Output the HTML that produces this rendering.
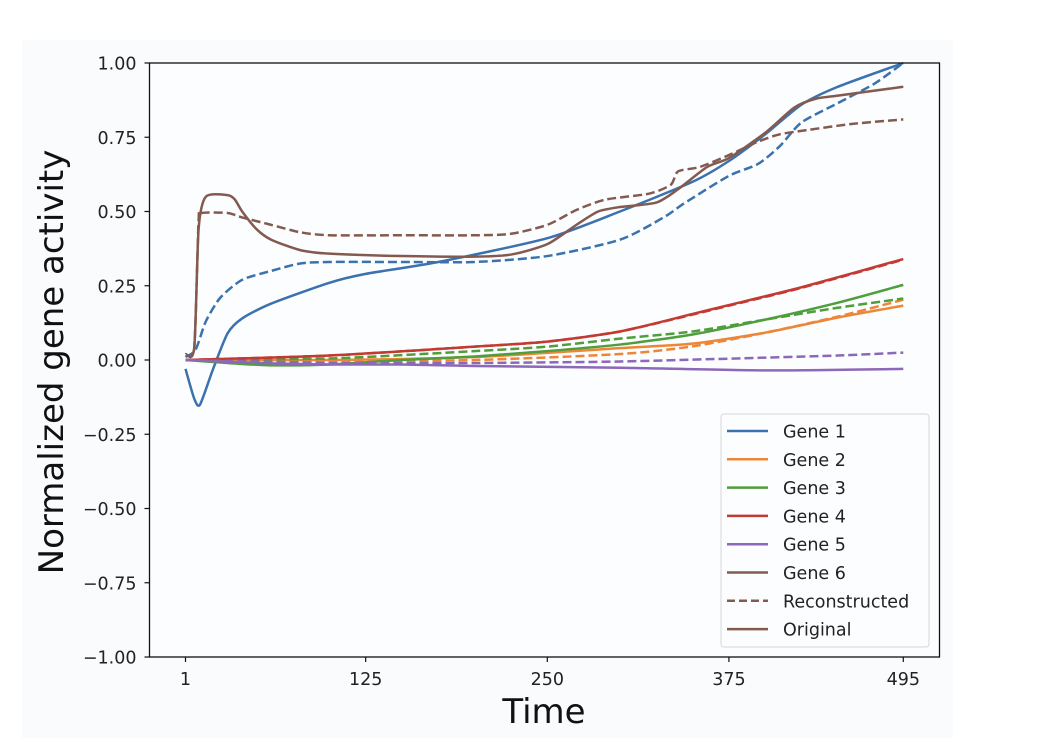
<!DOCTYPE html>
<html><head><meta charset="utf-8"><style>
html,body{margin:0;padding:0;background:#fff;}
svg{display:block;font-family:"DejaVu Sans","Liberation Sans",sans-serif;}
</style></head><body>
<svg id="chart" width="1052" height="738" viewBox="0 0 1052 738">
<rect x="22" y="40" width="931" height="698" fill="#f9fbfd"/>
<rect x="149.5" y="63" width="790" height="594" fill="#fcfdfe"/>
<g id="lines"></g>
<g id="axes"></g>
<text x="544" y="723" font-size="34" text-anchor="middle" fill="#111">Time</text>
<text transform="translate(63,362) rotate(-90)" font-size="34" text-anchor="middle" fill="#111">Normalized gene activity</text>
<g id="legend"></g>
</svg>
<script>
const categories = ["Gene 1","Gene 2","Gene 3","Gene 4","Gene 5","Gene 6"];
const colors = ["#3b72ae","#ee8637","#4f9e3c","#c23a31","#8c68b8","#845a4f"];
const xTicks = [1,125,250,375,495];
const yTicks = [1,0.75,0.5,0.25,0,-0.25,-0.5,-0.75,-1];
const yTickLabels = ["1.00","0.75","0.50","0.25","0.00","\u22120.25","\u22120.50","\u22120.75","\u22121.00"];
const g1Orig = [[1,-0.03],[7,-0.13],[11,-0.15],[20,-0.03],[30,0.09],[40,0.14],[60,0.19],[100,0.26],[125,0.29],[175,0.33],[250,0.41],[300,0.5],[350,0.6],[375,0.67],[400,0.76],[425,0.86],[450,0.92],[495,1.0]];
const g1Rec = [[1,0.01],[8,0.035],[15,0.13],[25,0.21],[40,0.27],[60,0.3],[80,0.325],[100,0.33],[150,0.33],[200,0.33],[250,0.35],[300,0.405],[330,0.48],[345,0.53],[375,0.62],[395,0.66],[410,0.72],[425,0.8],[450,0.865],[475,0.93],[495,1.0]];
const g2Orig = [[1,0],[100,0],[200,0.01],[300,0.04],[350,0.055],[400,0.092],[450,0.143],[495,0.183]];
const g2Rec = [[1,0],[100,-0.005],[200,0],[300,0.02],[350,0.046],[400,0.092],[450,0.146],[495,0.203]];
const g3Orig = [[1,0],[30,-0.01],[60,-0.018],[100,-0.015],[150,0],[200,0.012],[250,0.03],[300,0.052],[350,0.086],[400,0.136],[450,0.193],[495,0.253]];
const g3Rec = [[1,0],[100,0.005],[200,0.03],[250,0.045],[300,0.072],[350,0.096],[400,0.136],[450,0.176],[495,0.207]];
const g4Orig = [[1,0],[100,0.015],[200,0.045],[250,0.062],[300,0.096],[350,0.155],[375,0.185],[425,0.245],[495,0.34]];
const g4Rec = [[1,0],[100,0.015],[200,0.045],[250,0.062],[300,0.096],[350,0.153],[375,0.183],[425,0.243],[495,0.338]];
const g5Orig = [[1,0],[50,-0.01],[100,-0.015],[150,-0.015],[200,-0.02],[300,-0.026],[400,-0.035],[495,-0.03]];
const g5Rec = [[1,0],[100,-0.01],[200,-0.01],[300,-0.005],[400,0.008],[450,0.015],[495,0.025]];
const g6Orig = [[1,0.02],[7,0.04],[10,0.44],[15,0.55],[30,0.555],[35,0.54],[40,0.5],[50,0.44],[60,0.405],[80,0.37],[100,0.358],[150,0.35],[200,0.348],[225,0.355],[250,0.39],[270,0.455],[285,0.5],[300,0.515],[325,0.53],[340,0.575],[360,0.65],[375,0.68],[400,0.765],[420,0.85],[435,0.88],[450,0.89],[495,0.92]];
const g6Rec = [[1,0.02],[7,0.04],[10,0.47],[12,0.495],[30,0.495],[40,0.48],[60,0.455],[80,0.43],[100,0.42],[150,0.42],[200,0.42],[225,0.425],[250,0.455],[270,0.505],[290,0.54],[320,0.56],[335,0.59],[340,0.635],[355,0.65],[375,0.69],[395,0.735],[410,0.76],[430,0.775],[460,0.795],[495,0.81]];
const originals = [g1Orig,g2Orig,g3Orig,g4Orig,g5Orig,g6Orig];
const recons = [g1Rec,g2Rec,g3Rec,g4Rec,g5Rec,g6Rec];

const X0=149.5,X1=939.5,Y0=63,Y1=657;
const xs = t => 185.5 + (t-1)*1.453;
const ys = v => 360 - v*297;
const NS="http://www.w3.org/2000/svg";
function mk(tag,attrs,parent){const e=document.createElementNS(NS,tag);for(const k in attrs)e.setAttribute(k,attrs[k]);parent.appendChild(e);return e;}
function pathD(pts){
  const p=pts.map(d=>[xs(d[0]),ys(d[1])]);
  let d="M"+p[0][0].toFixed(2)+","+p[0][1].toFixed(2);
  for(let i=0;i<p.length-1;i++){
    const p0=p[Math.max(0,i-1)],p1=p[i],p2=p[i+1],p3=p[Math.min(p.length-1,i+2)];
    const t=0.12;
    const c1=[p1[0]+(p2[0]-p0[0])*t,p1[1]+(p2[1]-p0[1])*t];
    const c2=[p2[0]-(p3[0]-p1[0])*t,p2[1]-(p3[1]-p1[1])*t];
    d+=" C"+c1.map(v=>v.toFixed(2)).join(",")+" "+c2.map(v=>v.toFixed(2)).join(",")+" "+p2.map(v=>v.toFixed(2)).join(",");
  }
  return d;
}
const lines=document.getElementById('lines');
for(let i=0;i<6;i++){
  const a=mk('path',{d:pathD(recons[i]),fill:'none',stroke:colors[i],'stroke-width':2.5,'stroke-dasharray':'9,4'},lines);
  
  
  const b=mk('path',{d:pathD(originals[i]),fill:'none',stroke:colors[i],'stroke-width':2.5},lines);
  
  
}
const axes=document.getElementById('axes');
const frame=mk('rect',{x:X0,y:Y0,width:X1-X0,height:Y1-Y0,fill:'none',stroke:'#111','stroke-width':1.3},axes);


xTicks.forEach(t=>{
  const x=xs(t);
  mk('line',{x1:x,x2:x,y1:Y1,y2:Y1+5,stroke:'#111','stroke-width':1.2},axes);
  const tx=mk('text',{x:x,y:Y1+28,'font-size':17.5,'text-anchor':'middle',fill:'#222'},axes);
  tx.textContent=t;
  
  
});
yTicks.forEach((v,i)=>{
  const y=ys(v);
  mk('line',{x1:X0-5,x2:X0,y1:y,y2:y,stroke:'#111','stroke-width':1.2},axes);
  const tx=mk('text',{x:X0-13,y:y+6.5,'font-size':17.5,'text-anchor':'end',fill:'#222'},axes);
  tx.textContent=yTickLabels[i];
  
  
});
const leg=document.getElementById('legend');
const box=mk('rect',{x:721,y:414,width:208,height:233,rx:3,fill:'#fcfdfe',stroke:'#d6d8db','stroke-width':1},leg);


const legLabels=categories.concat(["Reconstructed","Original"]);
const legColors=colors.concat(["#845a4f","#845a4f"]);
legLabels.forEach((lab,i)=>{
  const y=431+i*28.3;
  const ln=mk('line',{x1:727,x2:768,y1:y,y2:y,stroke:legColors[i],'stroke-width':2.5},leg);
  if(lab==="Reconstructed") ln.setAttribute('stroke-dasharray','8,4');
  
  
  const tx=mk('text',{x:783,y:y+6.5,'font-size':17.5,fill:'#222'},leg);
  tx.textContent=lab;
  
  
});
</script>
</body></html>
